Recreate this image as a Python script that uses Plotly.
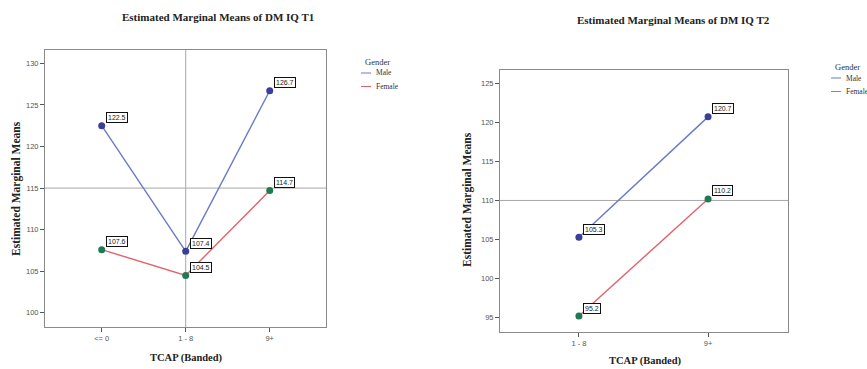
import plotly.graph_objects as go

# ---- data ----
cats_t1 = ["<= 0", "1 - 8", "9+"]
male_t1 = [122.5, 107.4, 126.7]
female_t1 = [107.6, 104.5, 114.7]

cats_t2 = ["1 - 8", "9+"]
male_t2 = [105.3, 120.7]
female_t2 = [95.2, 110.2]

titles = ["Estimated Marginal Means of DM IQ T1", "Estimated Marginal Means of DM IQ T2"]
series_names = ["Male", "Female"]

MALE_LINE = "#6a7bc6"
FEMALE_LINE = "#e2626b"
MALE_MK = "#3b3f9a"
FEMALE_MK = "#1f7a52"
SERIF = "Liberation Serif, Times New Roman, serif"
SANS = "Liberation Sans, Arial, sans-serif"

W, H = 867, 369
def px(x): return x / W
def py(y): return 1 - y / H

fig = go.Figure()

def add_panel(cats, male, female, xa, ya):
    for vals, lc, mc, name in [(male, MALE_LINE, MALE_MK, "Male"), (female, FEMALE_LINE, FEMALE_MK, "Female")]:
        fig.add_trace(go.Scatter(
            x=cats, y=vals, mode="lines+markers", name=name, showlegend=False,
            line=dict(color=lc, width=1.4), marker=dict(color=mc, size=7),
            xaxis=xa, yaxis=ya, cliponaxis=False))
        for c, v in zip(cats, vals):
            fig.add_annotation(x=c, y=v, xref=xa, yref=ya, text=f"{v:.1f}",
                               showarrow=False, xanchor="left", yanchor="middle",
                               xshift=4, yshift=8,
                               font=dict(family=SANS, size=7, color="#222"),
                               bgcolor="white", bordercolor="#111", borderwidth=1, borderpad=1)

add_panel(cats_t1, male_t1, female_t1, "x", "y")
add_panel(cats_t2, male_t2, female_t2, "x2", "y2")

axis_common = dict(showgrid=False, zeroline=False, showline=True, linecolor="#8a8a8a",
                   linewidth=1, mirror=True, ticks="outside", ticklen=4, tickcolor="#555",
                   tickfont=dict(family=SANS, size=7.5, color="#555"))

fig.update_layout(
    width=W, height=H, margin=dict(l=0, r=0, t=0, b=0),
    paper_bgcolor="white", plot_bgcolor="white",
    xaxis=dict(domain=[px(45), px(326)], type="category", range=[-0.675, 2.67],
               anchor="y", **axis_common),
    yaxis=dict(domain=[py(327), py(50)], range=[98.3, 131.6], tickvals=[100, 105, 110, 115, 120, 125, 130],
               anchor="x", **axis_common),
    xaxis2=dict(domain=[px(500), px(788)], type="category", range=[-0.611, 1.619],
                anchor="y2", **axis_common),
    yaxis2=dict(domain=[py(331.7), py(70)], range=[93.2, 126.7], tickvals=[95, 100, 105, 110, 115, 120, 125],
                anchor="x2", **axis_common),
)

# reference lines
fig.add_shape(type="line", xref="x", yref="y domain", x0="1 - 8", x1="1 - 8", y0=0, y1=1,
              line=dict(color="#a8a8a8", width=1), layer="below")
fig.add_shape(type="line", xref="x domain", yref="y", x0=0, x1=1, y0=115, y1=115,
              line=dict(color="#a8a8a8", width=1), layer="below")
fig.add_shape(type="line", xref="x2 domain", yref="y2", x0=0, x1=1, y0=110, y1=110,
              line=dict(color="#a8a8a8", width=1), layer="below")

# titles
for t, cx, cy in [(titles[0], 218, 17), (titles[1], 673, 20)]:
    fig.add_annotation(text=f"<b>{t}</b>", x=px(cx), y=py(cy), xref="paper", yref="paper",
                       showarrow=False, xanchor="center", yanchor="middle",
                       font=dict(family=SERIF, size=11, color="#222"))

# axis titles
for cx, cy in [(16, 189), (468, 200)]:
    fig.add_annotation(text="<b>Estimated Marginal Means</b>", x=px(cx), y=py(cy), xref="paper", yref="paper",
                       showarrow=False, textangle=-90, xanchor="center", yanchor="middle",
                       font=dict(family=SERIF, size=11.5, color="#222"))
for cx, cy in [(186, 358), (645, 361)]:
    fig.add_annotation(text="<b>TCAP (Banded)</b>", x=px(cx), y=py(cy), xref="paper", yref="paper",
                       showarrow=False, xanchor="center", yanchor="middle",
                       font=dict(family=SERIF, size=10.5, color="#222"))

# legends
for gx, gy in [(377, 62), (847, 67)]:
    fig.add_annotation(text="Gender", x=px(gx), y=py(gy), xref="paper", yref="paper",
                       showarrow=False, xanchor="center", yanchor="middle",
                       font=dict(family=SERIF, size=8.5, color="#333"))
    for i, (nm, col) in enumerate(zip(series_names, [MALE_LINE, FEMALE_LINE])):
        yy = gy + 11 + i * 13.5
        fig.add_shape(type="line", xref="paper", yref="paper",
                      x0=px(gx - 16), x1=px(gx - 6), y0=py(yy), y1=py(yy),
                      line=dict(color=col, width=1))
        fig.add_annotation(text=nm, x=px(gx - 3), y=py(yy), xref="paper", yref="paper",
                           showarrow=False, xanchor="left", yanchor="middle",
                           font=dict(family=SERIF, size=7.5, color="#333"))

fig.write_html("out.html")
